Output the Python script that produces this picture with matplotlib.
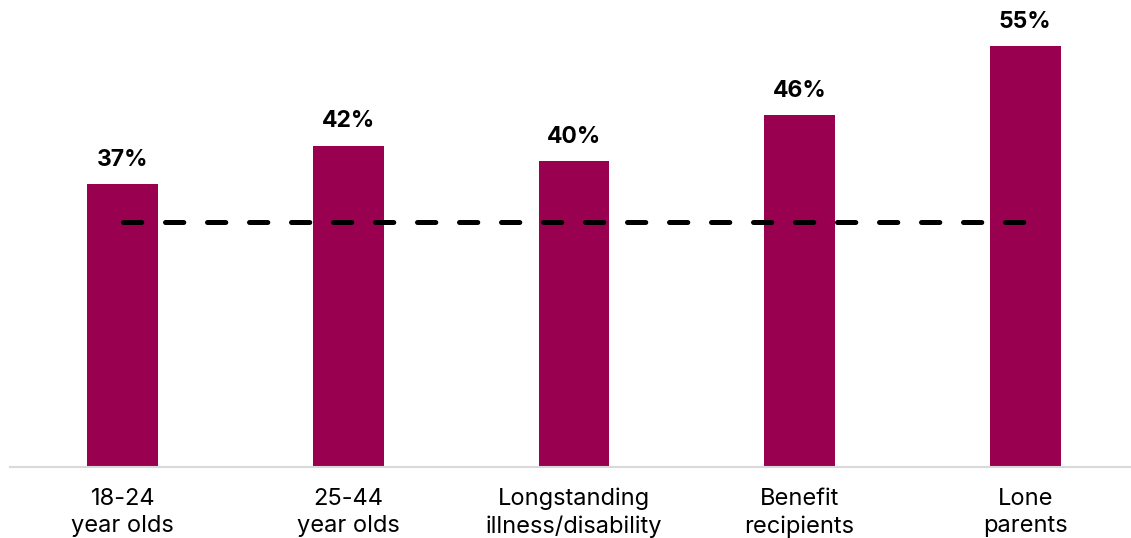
import matplotlib
matplotlib.use("Agg")
import matplotlib.pyplot as plt

categories = ["18-24\nyear olds", "25-44\nyear olds", "Longstanding\nillness/disability",
              "Benefit\nrecipients", "Lone\nparents"]
values = [37, 42, 40, 46, 55]
average = 32

bar_color = "#990050"

plt.rcParams["font.family"] = ["Inter", "DejaVu Sans"]

fig = plt.figure(figsize=(11.31, 5.38), dpi=100)
ax = fig.add_axes([10 / 1131, 71 / 538, 1128 / 1131, 421 / 538])

x = list(range(len(categories)))
ax.bar(x, values, width=0.313, color=bar_color, zorder=2)

# average reference line across the groups
ax.plot([x[0], x[-1]], [average, average], color="black", lw=3.6,
        dashes=(3.66, 4.74), dash_capstyle="round", solid_capstyle="round", zorder=3)

for xi, v in zip(x, values):
    ax.annotate(f"{v}%", (xi, v), xytext=(0, 9.5), textcoords="offset points",
                ha="center", va="bottom", fontsize=16.5, fontweight="bold")

ax.set_xlim(-0.5, 4.5)
ax.set_ylim(0, 55)
ax.set_xticks(x)
ax.set_xticklabels(categories, fontsize=17, linespacing=1.32)
ax.tick_params(axis="x", length=0, pad=15)
ax.set_yticks([])
for side in ("left", "right", "top"):
    ax.spines[side].set_visible(False)
ax.spines["bottom"].set_color("#d9d9d9")
ax.spines["bottom"].set_linewidth(1.5)

fig.savefig("out.png", dpi=100)
